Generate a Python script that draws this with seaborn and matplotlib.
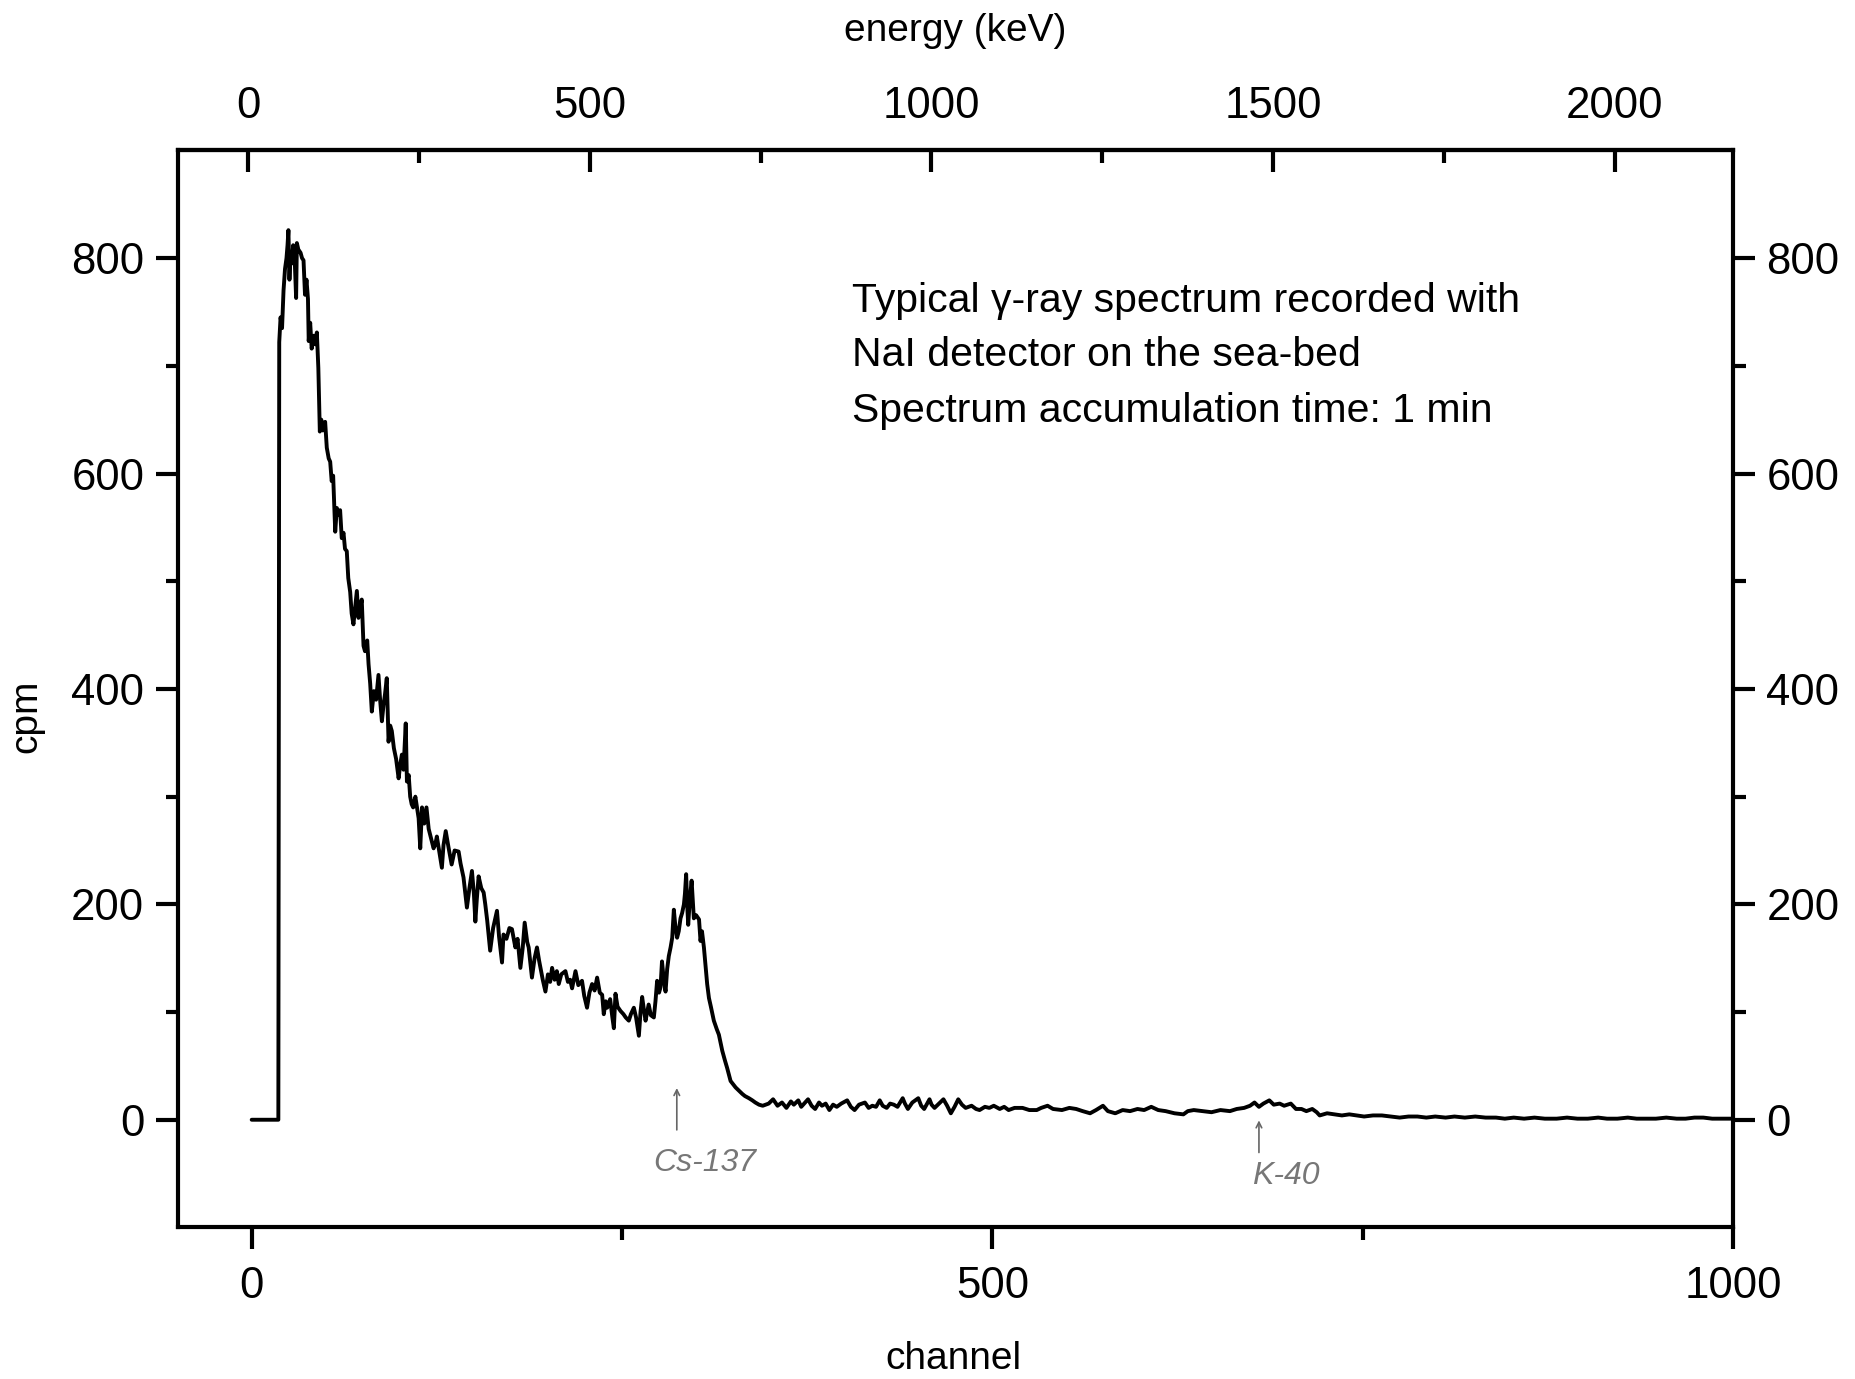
import numpy as np
import pandas as pd
import seaborn as sns
import matplotlib.pyplot as plt
from matplotlib.ticker import FixedLocator

# spectrum (channel, counts per minute)
channel = [0, 18, 18.6, 19.5, 20.5, 21.5, 22.5, 23.5, 24.2, 24.8, 25.5, 26.2, 27, 28, 29, 30, 30.5,
           31.5, 33, 34, 35, 36, 37, 38, 38.5, 39.5, 40.5, 42, 43, 44, 45, 46, 47, 48, 49.6,
           50.7, 52, 53, 54, 55, 56.4, 57.5, 58.5, 59.7, 60.8, 62, 63, 64.2, 65.2, 66.5, 67.5,
           68.7, 70, 71, 72.1, 73.2, 74.3, 75.5, 76.5, 78, 78.9, 80, 81.1, 82.5, 84, 85.6, 86.7,
           87.9, 89, 90, 91.2, 92.4, 93.5, 94.6, 96, 97.5, 99.2, 100.3, 101.4, 102.5, 104, 104.8,
           106, 107, 108, 109, 110.5, 112.7, 113.8, 115, 116.5, 118, 119.5, 121, 122.8, 124, 125,
           126.5, 128.4, 129.5, 131, 133, 135, 137, 139.7, 141, 143, 145.3, 147, 148.7, 150, 151,
           152, 153.2, 155, 156.6, 157.7, 159, 161, 163, 165.6, 167, 169, 170, 172, 174, 175.7,
           178, 179.5, 181.4, 183, 184.3, 186, 187, 189.2, 191, 192.6, 194, 195, 196.5, 198.3,
           200, 201.5, 202.8, 204.5, 206, 207.3, 209, 211.8, 213.5, 215, 216.3, 218.6, 220.5,
           223, 224.5, 226.4, 228, 229.8, 231.5, 233.2, 235, 236.6, 237.7, 239, 240, 242, 243.5,
           244.5, 245.6, 247, 249, 251, 252.5, 254.6, 256, 258, 259.5, 261.4, 262.5, 263.6, 265,
           265.9, 267, 268, 269.5, 271.5, 272.6, 273.7, 275, 276, 277, 278.2, 279.4, 280.5, 281.6,
           282.8, 283.9, 285, 286, 287.2, 288.3, 289.5, 290.6, 291.8, 292.5, 293.3, 294, 294.7,
           295.8, 297, 298.5, 300, 302, 303, 304, 305.3, 306.3, 307.5, 308.7, 310, 312, 314,
           315.4, 317.7, 319.5, 321, 323.3, 325, 326.7, 329, 331.2, 333, 335.7, 338, 340, 342.5,
           345, 349, 352, 355, 358, 361, 364, 366, 369, 371, 373, 375.6, 378, 380.4, 383, 385,
           387.5, 390, 392.5, 395, 398, 402, 404.5, 407, 410, 414, 416.5, 419, 421.5, 424, 426,
           428.7, 431, 433.5, 436, 439.5, 441, 443, 446, 450, 452, 454, 457.6, 459, 461, 464, 467,
           469.5, 472, 474.5, 477, 479.5, 482, 486, 489, 491.4, 495, 498, 501, 505, 508, 511, 515,
           520.4, 525, 530, 533, 537.3, 541, 547, 552, 556.6, 561, 566, 570, 574.7, 578, 583, 588,
           593, 598, 602.5, 607.3, 612, 617, 623, 629, 632, 636, 642, 648, 654, 660.4, 665, 670,
           674, 677, 680, 683, 687, 690, 694, 697, 701.5, 705, 708.7, 712, 716, 719, 721, 726,
           731, 736, 741, 746, 751, 757, 763, 769, 775, 781, 787, 793, 799, 806, 812, 819, 826,
           833, 840, 846, 852, 859, 866, 873, 881, 888, 895, 902, 909, 915, 922, 929, 935, 941.5,
           948, 955, 962, 968, 974, 980, 986, 992, 1000]
cpm = [0, 0, 722, 745, 735, 770, 790, 800, 812, 826, 780, 805, 795, 812, 800, 763, 814,
       808, 805, 800, 798, 766, 780, 762, 723, 740, 716, 728, 720, 731, 698, 639, 650, 640, 648,
       624, 614, 611, 593, 598, 546, 568, 562, 566, 540, 545, 530, 528, 503, 490, 470,
       460, 478, 491, 466, 475, 483, 440, 435, 445, 423, 405, 379, 398, 390, 413, 390,
       370, 385, 395, 410, 351, 366, 361, 345, 335, 317, 330, 339, 325, 368, 314,
       320, 300, 293, 290, 300, 280, 252, 290, 275, 290, 270, 262, 252, 256, 263,
       250, 234, 255, 268, 252, 237, 250, 249, 238, 225, 197, 215, 231, 210, 184,
       205, 226, 215, 211, 200, 185, 157, 178, 194, 170, 146, 172, 168, 178, 177,
       160, 168, 141, 160, 183, 165, 160, 132, 150, 160, 148, 141, 130, 119,
       135, 128, 141, 130, 138, 126, 135, 138, 128, 130, 122, 138, 125,
       129, 115, 104, 118, 126, 120, 132, 118, 116, 98, 110, 104, 112, 95,
       85, 117, 105, 101, 98, 95, 92, 98, 104, 95, 78, 100, 114, 100,
       92, 100, 107, 97, 95, 110, 129, 118, 123, 147, 130, 119, 140, 152,
       160, 169, 195, 180, 169, 175, 187, 192, 200, 210, 228, 200, 181,
       205, 222, 187, 190, 186, 166, 175, 160, 144, 126, 113, 105, 92, 84,
       79, 64, 55, 48, 36, 33, 30, 27, 24, 22, 20, 18, 16, 14,
       13, 15, 19, 13, 16, 11, 17, 14, 18, 12, 15, 19, 13, 10, 16, 13,
       15, 9, 14, 12, 15, 18, 12, 9, 14, 16, 11, 13, 12, 18, 13,
       11, 15, 14, 12, 20, 15, 10, 16, 20, 13, 10, 19, 14, 11, 15, 19,
       13, 6, 12, 19, 14, 11, 13, 10, 9, 12, 11, 13, 10, 12, 9, 11,
       11, 9, 9, 11, 13, 10, 9, 11, 10, 8, 6, 9, 13, 8, 6, 9,
       8, 10, 9, 12, 9, 8, 6, 5, 8, 9, 8, 7, 9, 8, 10, 11,
       13, 16, 12, 15, 18, 14, 15, 13, 15, 10, 10, 8, 10, 7, 4, 6,
       5, 4, 5, 4, 3, 4, 4, 3, 2, 3, 3, 2, 3, 2, 3, 2, 3,
       2, 2, 1, 2, 1, 2, 1, 1, 2, 1, 1, 2, 1, 1, 2, 1, 1,
       1, 2, 1, 1, 2, 2, 1, 1, 1]

channel_ticks = [0, 500, 1000]
channel_minor = [250, 750]
cpm_ticks = [0, 200, 400, 600, 800]
cpm_minor = [100, 300, 500, 700]
energy_ticks = [0, 500, 1000, 1500, 2000]
energy_minor = [250, 750, 1250, 1750]

note_lines = ["Typical \u03b3-ray spectrum recorded with",
              "NaI detector on the sea-bed",
              "Spectrum accumulation time: 1 min"]


def ch2kev(c):
    return 2.168 * (np.asarray(c) + 2.4)


def kev2ch(e):
    return np.asarray(e) / 2.168 - 2.4


sns.set_style("ticks")
plt.rcParams['font.family'] = ['Liberation Sans', 'DejaVu Sans']
plt.rcParams.update({"text.color": "black", "axes.labelcolor": "black",
                     "xtick.color": "black", "ytick.color": "black"})

fig = plt.figure(figsize=(18.56, 13.79), dpi=100)
ax = fig.add_axes([0.0957, 0.1099, 0.838, 0.781])

df = pd.DataFrame({"channel": channel, "cpm": cpm})
sns.lineplot(data=df, x="channel", y="cpm", ax=ax, color="black", lw=2.8, estimator=None)

ax.set_xlim(-50, 1000)
ax.set_ylim(-100, 900)

ax.xaxis.set_major_locator(FixedLocator(channel_ticks))
ax.xaxis.set_minor_locator(FixedLocator(channel_minor))
ax.yaxis.set_major_locator(FixedLocator(cpm_ticks))
ax.yaxis.set_minor_locator(FixedLocator(cpm_minor))
ax.tick_params(which="both", direction="out", width=3, top=False, right=True,
               labelright=True, labelsize=31.5, color="black", labelcolor="black")
ax.tick_params(which="major", length=16)
ax.tick_params(which="minor", length=9)
ax.tick_params(axis="x", pad=12)
ax.tick_params(axis="y", pad=8)
for s in ax.spines.values():
    s.set_linewidth(3)
    s.set_color("black")

# energy scale on top
sec = ax.secondary_xaxis("top", functions=(ch2kev, kev2ch))
sec.xaxis.set_major_locator(FixedLocator(energy_ticks))
sec.xaxis.set_minor_locator(FixedLocator(energy_minor))
sec.tick_params(which="both", direction="in", width=3, labelsize=31.5, pad=17,
                color="black", labelcolor="black")
sec.tick_params(which="major", length=16)
sec.tick_params(which="minor", length=9)
sec.spines["top"].set_linewidth(3)
sec.set_xlabel("energy (keV)", fontsize=28, labelpad=32, color="black")

ax.set_xlabel("channel", fontsize=28, va="center", color="black")
ax.xaxis.set_label_coords(0.499, -0.122)
ax.set_ylabel("cpm", fontsize=28, va="center", color="black")
ax.yaxis.set_label_coords(-0.097, 0.475)

for txt, yy in zip(note_lines, [750, 700, 648]):
    ax.text(405, yy, txt, fontsize=29.5, ha="left", va="baseline", color="black")

# handwritten isotope marks
ax.annotate("", xy=(287, 32), xytext=(287, -12),
            arrowprops=dict(arrowstyle="->", lw=1.2, color="#666666"))
ax.text(306, -40, "Cs-137", fontsize=23, style="italic", color="#777777",
        ha="center", va="center")
ax.annotate("", xy=(680, 2), xytext=(680, -33),
            arrowprops=dict(arrowstyle="->", lw=1.2, color="#666666"))
ax.text(698, -52, "K-40", fontsize=23, style="italic", color="#777777",
        ha="center", va="center")

fig.savefig("out.png", dpi=100)
